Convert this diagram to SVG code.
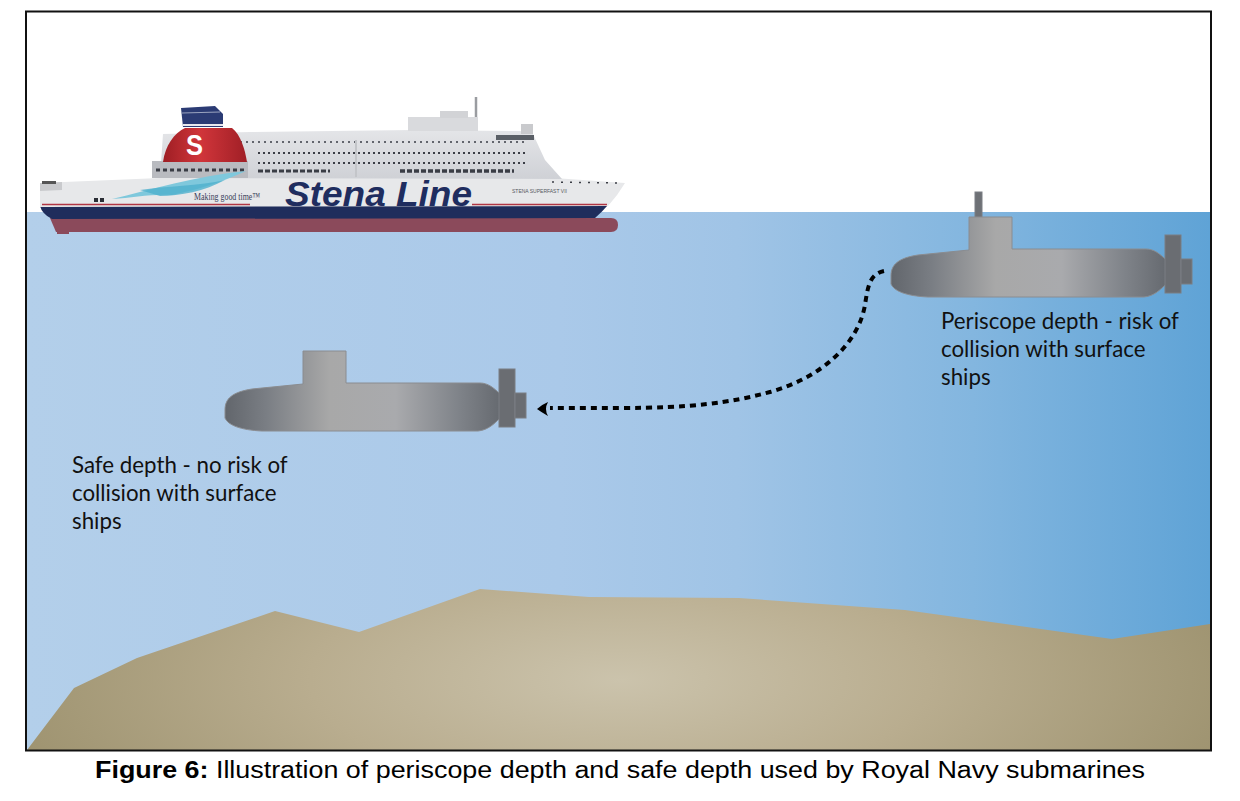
<svg xmlns="http://www.w3.org/2000/svg" width="1240" height="801" viewBox="0 0 1240 801">
<defs>
<linearGradient id="water" x1="0" y1="0" x2="1" y2="0">
<stop offset="0" stop-color="#b3cfea"/>
<stop offset="0.45" stop-color="#aac9e9"/>
<stop offset="0.6" stop-color="#a0c4e6"/>
<stop offset="0.8" stop-color="#83b6df"/>
<stop offset="1" stop-color="#5fa3d6"/>
</linearGradient>
<radialGradient id="sand" gradientUnits="userSpaceOnUse" cx="620" cy="680" r="620" gradientTransform="translate(620 680) scale(1 0.35) translate(-620 -680)">
<stop offset="0" stop-color="#cbc3ac"/>
<stop offset="0.5" stop-color="#b9ad8f"/>
<stop offset="1" stop-color="#9f9471"/>
</radialGradient>
<linearGradient id="hullg" x1="0" y1="0" x2="1" y2="0">
<stop offset="0" stop-color="#62666c"/>
<stop offset="0.15" stop-color="#7a7e84"/>
<stop offset="0.38" stop-color="#a8a8a8"/>
<stop offset="0.62" stop-color="#a9aaad"/>
<stop offset="0.85" stop-color="#7f8389"/>
<stop offset="1" stop-color="#666a70"/>
</linearGradient>
<linearGradient id="funnelg" x1="0" y1="0" x2="1" y2="0">
<stop offset="0" stop-color="#9e1e24"/>
<stop offset="0.45" stop-color="#d0353a"/>
<stop offset="1" stop-color="#a01f26"/>
</linearGradient>
<linearGradient id="superg" x1="0" y1="0" x2="0" y2="1">
<stop offset="0" stop-color="#e4e5e8"/>
<stop offset="1" stop-color="#cfd1d6"/>
</linearGradient>
<symbol id="sub" overflow="visible">
<path class="subbody" d="M225,410 C225,398 233,392 252,389 L303,384 L303,351 L346,351 L346,383 L480,383 C488,383 494,388 500,394 L500,418 C494,424 488,430 478,431 L262,431 C240,430 228,425 225,418 Z"/>
<rect class="fin" x="499" y="369" width="16" height="58"/>
<rect class="fin" x="515" y="393" width="11" height="25"/>
</symbol>
</defs>
<style>
.subbody{fill:url(#hullg);stroke:#8a8c90;stroke-width:1}
.fin{fill:#6a6d72;stroke:#7b7e83;stroke-width:1}
.label{font-family:Lato,"Open Sans",sans-serif;font-size:22.3px;fill:#111}
.win{fill:none;stroke:#3a3d45}
</style>
<rect width="1240" height="801" fill="#ffffff"/>
<g id="sea">
<rect x="27" y="212" width="1183" height="538" fill="url(#water)"/>
<polygon points="27,750 74,688 137,658 275,611 359,632 480,589 589,597 739,598 905,610 1112,639 1210,624 1210,750" fill="url(#sand)"/>
</g>
<rect x="26" y="11.5" width="1185" height="739" fill="none" stroke="#111" stroke-width="2"/>
<g id="ship">
<rect x="57" y="221" width="12" height="13" fill="#8b4a5b"/>
<path d="M50,218 L611,218 Q618,218 618,225 Q618,232 611,232 L56,232 Z" fill="#8b4a5b"/>
<path d="M40,206 L608,205 Q601,213 595,218 L52,219 Q42,214 40,206 Z" fill="#1f2d5c"/>
<path d="M40,183 L160,178 L540,177 L625,183 Q618,195 608,206 L40,207 Z" fill="#e7e8ea"/>
<path d="M40,183 L62,182 L62,190 L40,191 Z" fill="#c9cacd"/>
<rect x="42" y="181" width="14" height="3" fill="#555"/>
<line x1="42" y1="204.5" x2="250" y2="204.5" stroke="#b03543" stroke-width="1.3"/>
<line x1="472" y1="204.5" x2="607" y2="204.5" stroke="#b03543" stroke-width="1.3"/>
<path d="M160,178 L163,134 L250,132 L410,130 L520,131 L533,134 L545,160 L562,179 Z" fill="url(#superg)"/>
<rect x="408" y="117" width="70" height="14" fill="#d9dadd"/>
<rect x="440" y="111" width="28" height="7" fill="#d2d3d6"/>
<line x1="476" y1="97" x2="476" y2="117" stroke="#9a9ca0" stroke-width="2.5"/>
<rect x="521" y="124" width="12" height="10" fill="#c9cacd"/>
<rect x="496" y="135" width="38" height="5" fill="#5a5f66"/>
<line class="win" x1="240" y1="142" x2="525" y2="142" stroke-width="1.6" stroke-dasharray="2 4"/>
<line class="win" x1="258" y1="153" x2="528" y2="153" stroke-width="2" stroke-dasharray="2 3"/>
<line class="win" x1="258" y1="163" x2="525" y2="163" stroke-width="2" stroke-dasharray="2 3"/>
<line class="win" x1="258" y1="171" x2="330" y2="171" stroke-width="3" stroke-dasharray="5 2"/>
<line class="win" x1="400" y1="171" x2="514" y2="171" stroke-width="3.5" stroke-dasharray="5 2"/>
<line x1="356" y1="140" x2="356" y2="177" stroke="#c3c5c9" stroke-width="2"/>
<rect x="152" y="161" width="96" height="17" fill="#b9bbc0"/>
<line class="win" x1="156" y1="170" x2="245" y2="170" stroke-width="3" stroke-dasharray="4 3"/>
<path d="M163,162 C165,146 174,133 185,128 L232,128 C241,135 245,150 247,162 Z" fill="url(#funnelg)"/>
<path d="M183,127 L181,108 L215,106 L223,114 L223,127 Z" fill="#2b3b74"/>
<line x1="182" y1="113" x2="220" y2="112" stroke="#9aa3bf" stroke-width="1.2"/>
<line x1="183" y1="125" x2="223" y2="125" stroke="#e8e8ee" stroke-width="2"/>
<text x="186" y="155" font-family="Liberation Sans,Arial,sans-serif" font-weight="bold" font-size="30" fill="#ffffff" textLength="17" lengthAdjust="spacingAndGlyphs">S</text>
<path d="M112,199 C150,190 195,176 246,171 C218,184 195,190 172,195 C150,194 132,198 112,199 Z" fill="#7fc8dc"/>
<path d="M140,190 C165,186 200,186 225,180 C205,191 180,196 160,196 Z" fill="#4fb0cd" opacity="0.8"/>
<rect x="94" y="198" width="4" height="4" fill="#2a2d35"/>
<rect x="100" y="198" width="4" height="4" fill="#2a2d35"/>
<line class="win" x1="552" y1="182" x2="620" y2="183" stroke-width="1.5" stroke-dasharray="2 7"/>
<text x="194" y="200" font-family="Liberation Serif,serif" font-size="10.5" fill="#3a3f5a" textLength="66" lengthAdjust="spacingAndGlyphs">Making good time™</text>
<text x="285" y="206" font-family="Liberation Sans,Arial,sans-serif" font-weight="bold" font-style="italic" font-size="35" fill="#1f2d5f" textLength="187" lengthAdjust="spacingAndGlyphs">Stena Line</text>
<text x="512" y="193" font-family="Liberation Sans,Arial,sans-serif" font-size="5" fill="#55585e">STENA SUPERFAST VII</text>
</g>
<g id="sub-periscope">
<rect x="975" y="192" width="7" height="26" fill="#6e7176" stroke="#7b7e83" stroke-width="1"/>
<use href="#sub" transform="translate(666 -134)"/>
</g>
<g id="sub-safe">
<use href="#sub"/>
</g>
<g id="connectors">
<path d="M884,271 C870,274 868,285 865,305 C858,345 820,378 770,392 C730,403 690,408 620,408 L550,408" fill="none" stroke="#000" stroke-width="4" stroke-dasharray="6 5"/>
<path d="M548,402 Q541,405 537,409 Q541,412 548,416 Q544,409 548,402 Z" fill="#000"/>
</g>
<g id="label-periscope">
<text class="label" x="941" y="329">Periscope depth - risk of</text>
<text class="label" x="941" y="357">collision with surface</text>
<text class="label" x="941" y="385">ships</text>
</g>
<g id="label-safe">
<text class="label" x="72" y="473">Safe depth - no risk of</text>
<text class="label" x="72" y="501">collision with surface</text>
<text class="label" x="72" y="529">ships</text>
</g>
<text x="95" y="778" font-family="Liberation Sans,Arial,sans-serif" font-size="23.5" fill="#000" textLength="1050" lengthAdjust="spacingAndGlyphs"><tspan font-weight="bold">Figure 6:</tspan> Illustration of periscope depth and safe depth used by Royal Navy submarines</text>
</svg>
